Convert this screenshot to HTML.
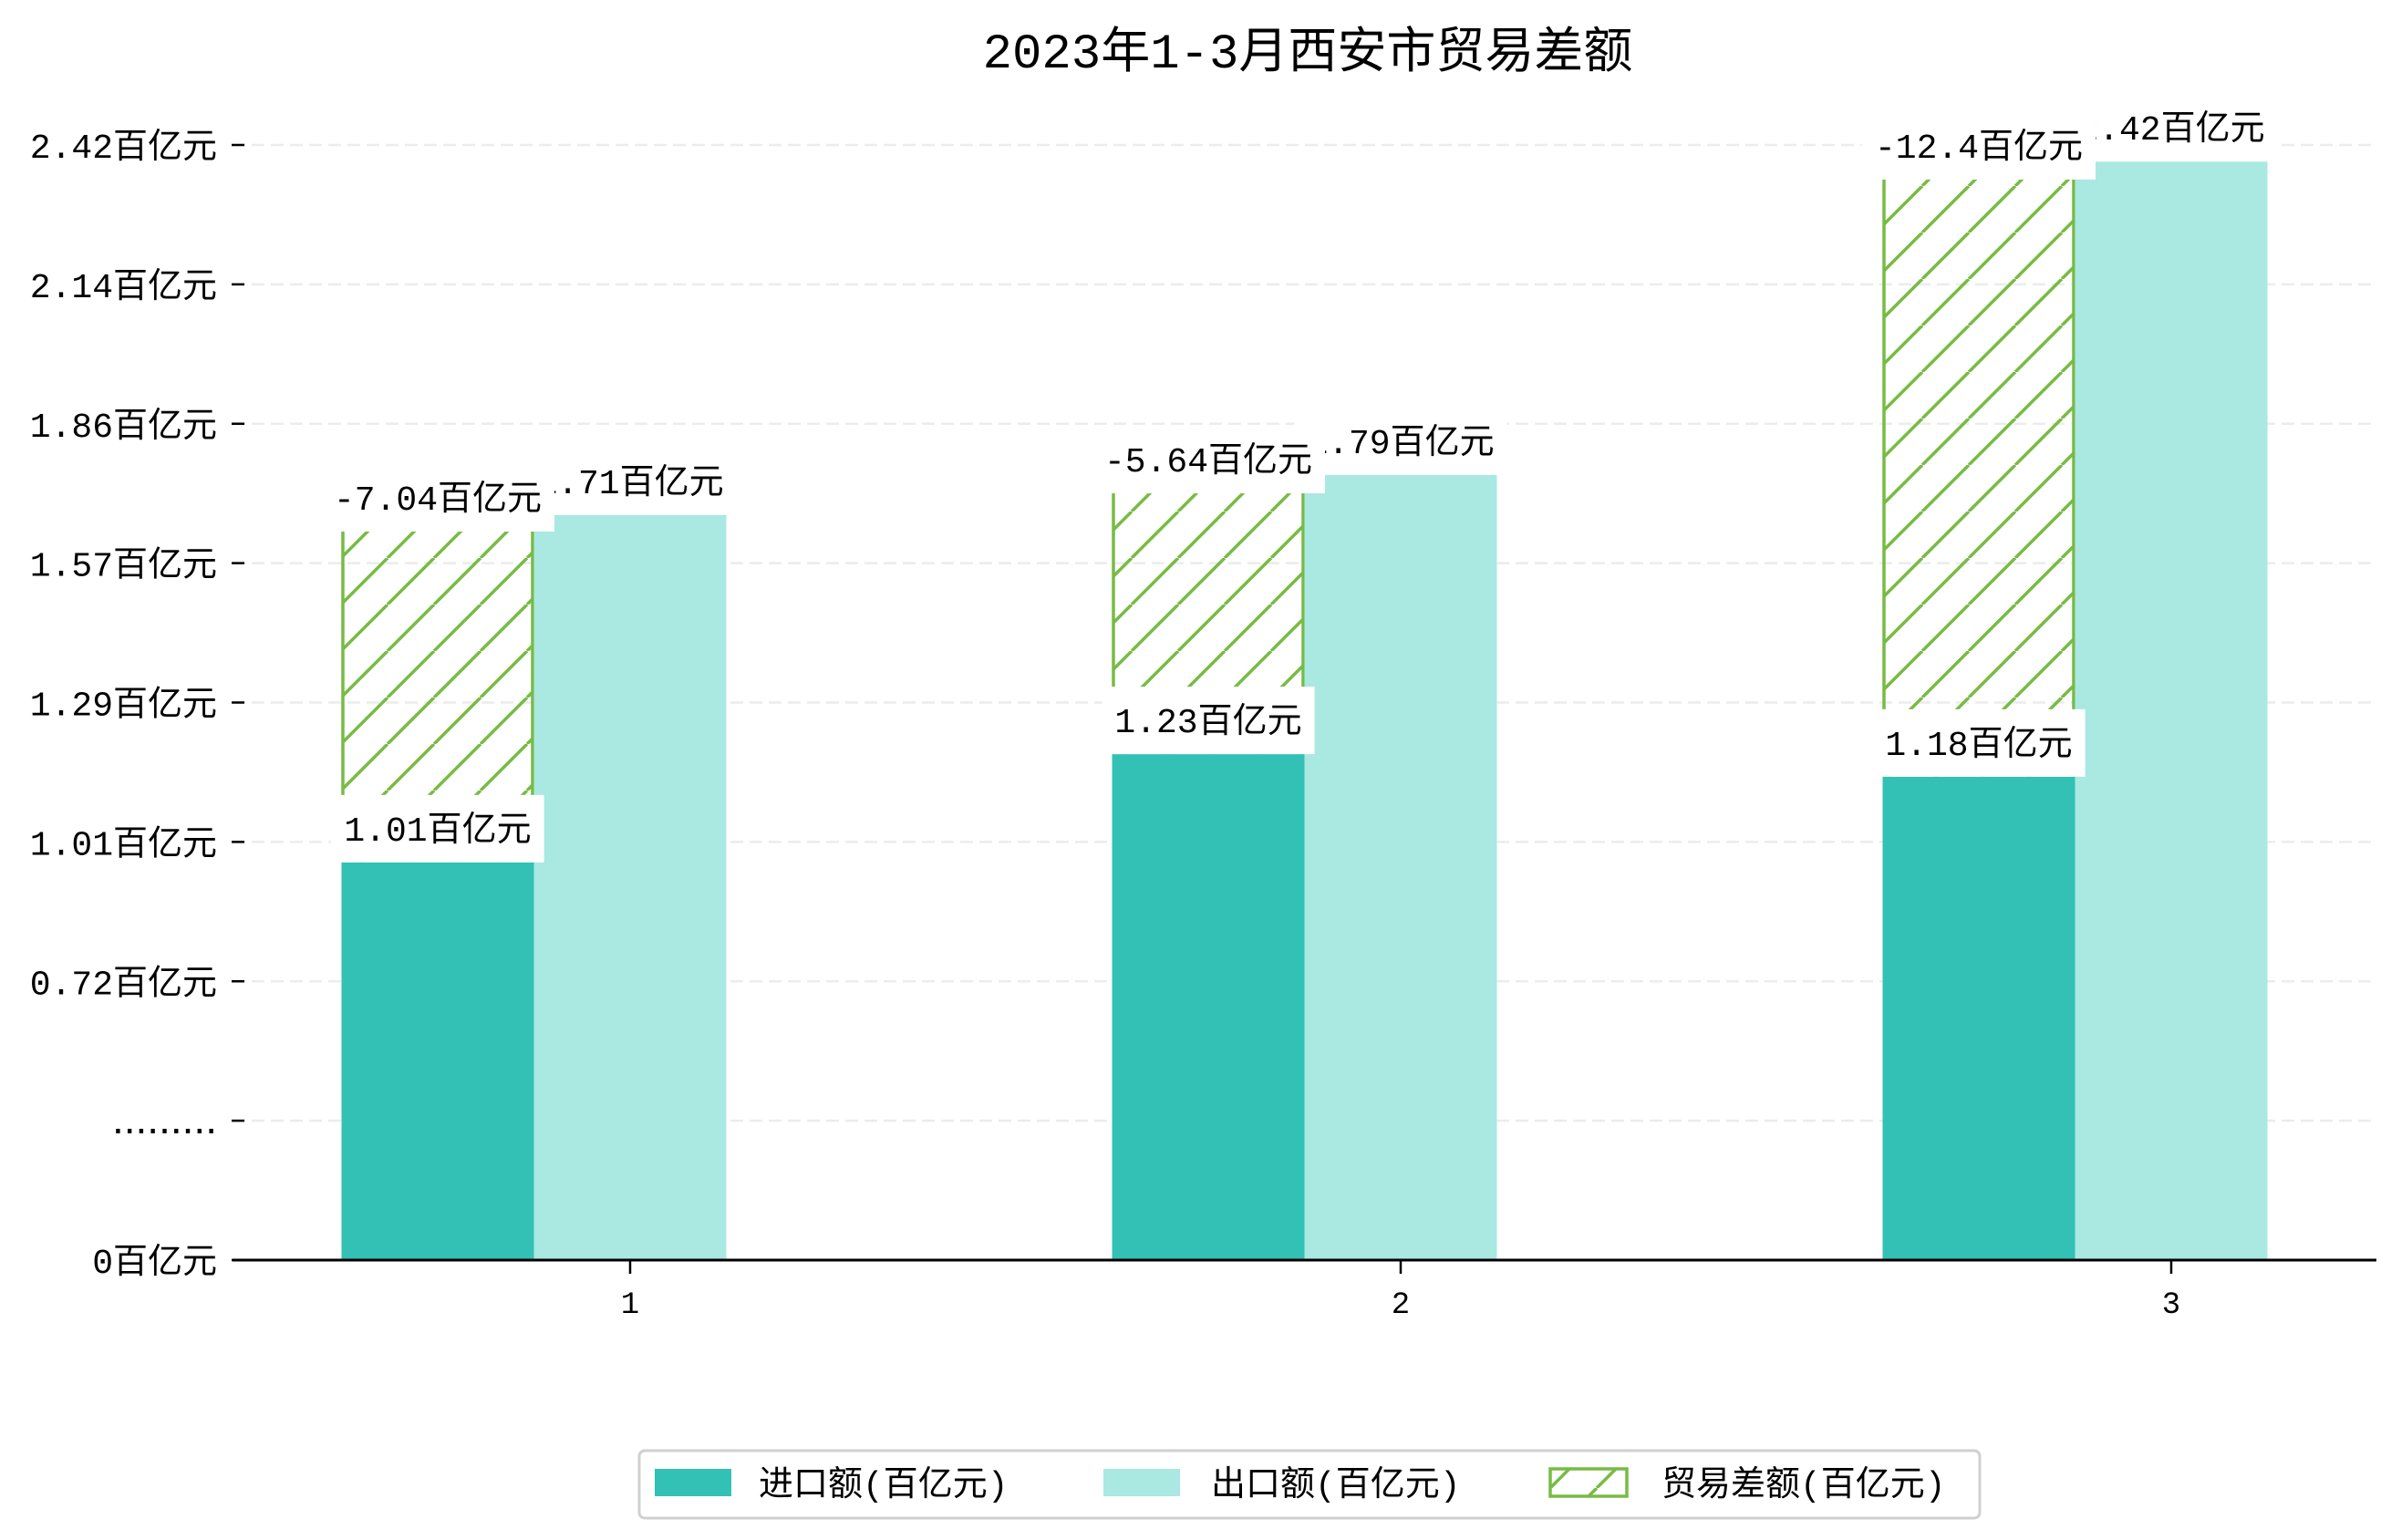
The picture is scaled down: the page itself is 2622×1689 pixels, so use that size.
<!DOCTYPE html>
<html><head><meta charset="utf-8">
<style>
html,body{margin:0;padding:0;background:#fff;}
svg{display:block;}
text{font-family:"Liberation Mono","Noto Sans CJK SC",monospace;fill:#000;}
</style></head>
<body>
<svg id="chart" width="2622" height="1689" viewBox="0 0 2622 1689" xmlns="http://www.w3.org/2000/svg">
<defs>
<pattern id="hatch" patternUnits="userSpaceOnUse" width="51" height="51" patternTransform="translate(374,0)">
<line x1="0" y1="51" x2="51" y2="0" stroke="#77bb44" stroke-width="3.5"/>
<line x1="-51" y1="51" x2="0" y2="0" stroke="#77bb44" stroke-width="3.5"/>
<line x1="51" y1="51" x2="102" y2="0" stroke="#77bb44" stroke-width="3.5"/>
</pattern>
</defs>
<text x="1434" y="74" font-size="54" text-anchor="middle">2023年1-3月西安市贸易差额</text>
<g id="grid"></g>
<g id="yaxis"></g>
<g id="bars"></g>
<g id="labels"></g>
<g id="xaxis"></g>
<g id="legend">
<rect x="701" y="1591" width="1470" height="74" rx="6" fill="#fff" stroke="#d0d0d0" stroke-width="3"/>
<rect x="718" y="1611" width="84" height="30" fill="#32c1b4"/>
<text x="832" y="1640" font-size="38">进口额(百亿元)</text>
<rect x="1210" y="1611" width="84" height="30" fill="#aae8e2"/>
<text x="1328" y="1640" font-size="38">出口额(百亿元)</text>
<rect x="1700" y="1611" width="84" height="30" fill="url(#hatch)" stroke="#77bb44" stroke-width="3.5"/>
<text x="1822" y="1640" font-size="38">贸易差额(百亿元)</text>
</g>
</svg>
<script>
const categories = ["1", "2", "3"];
const importValues = [0.863, 1.098, 1.049];
const exportValues = [1.617, 1.704, 2.384];
const balanceValues = [0.718, 0.566, 1.296];
const importLabels = ["1.01百亿元", "1.23百亿元", "1.18百亿元"];
const exportLabels = ["1.71百亿元", "1.79百亿元", "2.42百亿元"];
const balanceLabels = ["-7.04百亿元", "-5.64百亿元", "-12.4百亿元"];
const yTickValues = [0, 0.3025, 0.605, 0.9075, 1.21, 1.5125, 1.815, 2.1175, 2.42];
const yTickLabels = ["0百亿元", ".........", "0.72百亿元", "1.01百亿元", "1.29百亿元", "1.57百亿元", "1.86百亿元", "2.14百亿元", "2.42百亿元"];

const NS = "http://www.w3.org/2000/svg";
const plotL = 255, plotR = 2606, y0 = 1382, yTop = 159, yMax = 2.42;
const barW = 211;
function yScale(v){ return y0 - v / yMax * (y0 - yTop); }
function xScale(i){ return 691 + i * 845; }
function mk(tag, attrs, parent){
  const e = document.createElementNS(NS, tag);
  for (const k in attrs) e.setAttribute(k, attrs[k]);
  parent.appendChild(e);
  return e;
}
const grid = document.getElementById('grid');
const yaxis = document.getElementById('yaxis');
const bars = document.getElementById('bars');
const labels = document.getElementById('labels');
const xaxis = document.getElementById('xaxis');

yTickValues.forEach((v, i) => {
  const y = yScale(v);
  if (i > 0) {
    const g = mk('line', {x1: plotL, x2: plotR, y1: y, y2: y, stroke: '#ececec', 'stroke-width': 2.5, 'stroke-dasharray': '14,7'}, grid);
    
    
  }
  const t = mk('line', {x1: 254, x2: 268, y1: y, y2: y, stroke: '#000', 'stroke-width': 2.5}, yaxis);
  
  
  const dots = yTickLabels[i].indexOf('百') < 0;
  const tx = mk('text', {x: 238, y: y + 14, 'font-size': dots ? 46 : 38, 'text-anchor': 'end'}, yaxis);
  if (dots) tx.setAttribute('style', 'font-family:"Liberation Sans",sans-serif');
  tx.textContent = yTickLabels[i];
  
  
});

function addLabel(text, cx, barTop, name){
  const g = mk('g', {}, labels);
  
  
  const r = mk('rect', {fill: '#fff'}, g);
  const t = mk('text', {x: cx, y: barTop - 24, 'font-size': 38, 'text-anchor': 'middle'}, g);
  t.textContent = text;
  const bb = t.getBBox();
  r.setAttribute('x', bb.x - 14);
  r.setAttribute('width', bb.width + 28);
  r.setAttribute('y', barTop - 74);
  r.setAttribute('height', 74);
}

categories.forEach((c, i) => {
  const cx = xScale(i);
  const ix = cx - barW * 1.5, ex = cx - barW / 2;
  const iTop = yScale(importValues[i]);
  const eTop = yScale(exportValues[i]);
  const hTop = yScale(importValues[i] + balanceValues[i]);
  const hb = mk('rect', {x: ix, y: hTop, width: barW, height: iTop - hTop, fill: 'url(#hatch)'}, bars);
  
  
  const l1 = mk('line', {x1: ix + 1.5, x2: ix + 1.5, y1: hTop, y2: iTop, stroke: '#77bb44', 'stroke-width': 3.5}, bars);
  
  
  const l2 = mk('line', {x1: ix + barW - 1.5, x2: ix + barW - 1.5, y1: hTop, y2: iTop, stroke: '#77bb44', 'stroke-width': 3.5}, bars);
  
  
  const ib = mk('rect', {x: ix, y: iTop, width: barW, height: y0 - iTop, fill: '#32c1b4'}, bars);
  
  
  const eb = mk('rect', {x: ex, y: eTop, width: barW, height: y0 - eTop, fill: '#aae8e2'}, bars);
  
  
});
categories.forEach((c, i) => {
  addLabel(exportLabels[i], xScale(i), yScale(exportValues[i]), 'label-export-' + c);
});
categories.forEach((c, i) => {
  const cx = xScale(i);
  addLabel(balanceLabels[i], cx - barW, yScale(importValues[i] + balanceValues[i]), 'label-balance-' + c);
  addLabel(importLabels[i], cx - barW, yScale(importValues[i]), 'label-import-' + c);
});

const ax = mk('line', {x1: plotL, x2: plotR, y1: y0, y2: y0, stroke: '#000', 'stroke-width': 3}, xaxis);


categories.forEach((c, i) => {
  const x = xScale(i);
  const t = mk('line', {x1: x, x2: x, y1: y0, y2: y0 + 15, stroke: '#000', 'stroke-width': 2.5}, xaxis);
  
  
  const tx = mk('text', {x: x, y: y0 + 58, 'font-size': 34, 'text-anchor': 'middle'}, xaxis);
  tx.textContent = c;
  
  
});
</script>
</body></html>
